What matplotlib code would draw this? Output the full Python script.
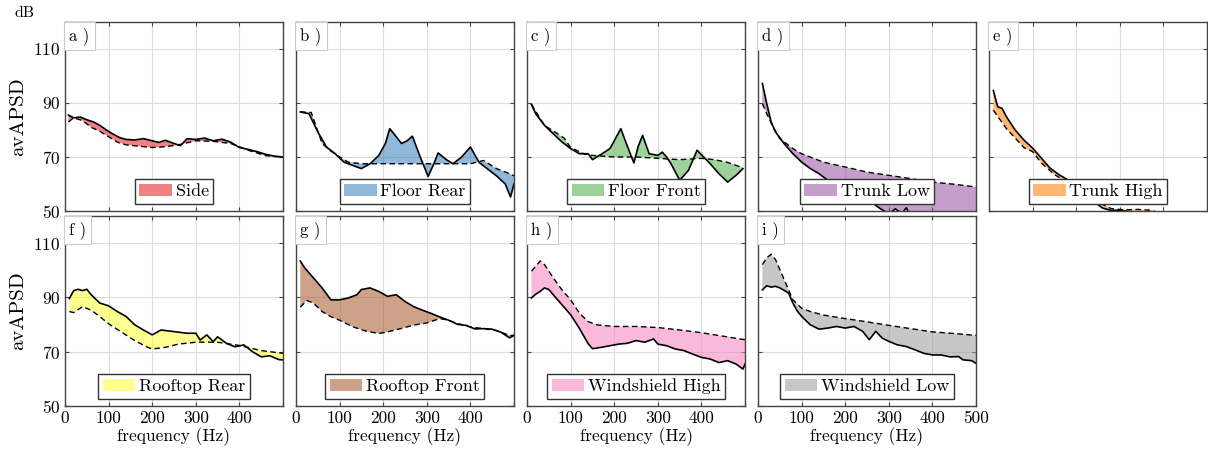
import numpy as np
import matplotlib
matplotlib.use("Agg")
import matplotlib.pyplot as plt

plt.rcParams["font.family"] = ["cmr10", "DejaVu Serif"]
plt.rcParams["axes.formatter.use_mathtext"] = True
plt.rcParams["mathtext.fontset"] = "cm"

names = ["Side", "Floor Rear", "Floor Front", "Trunk Low", "Trunk High",
         "Rooftop Rear", "Rooftop Front", "Windshield High", "Windshield Low"]
letters = ["a", "b", "c", "d", "e", "f", "g", "h", "i"]
colors = ["#e41a1c", "#377eb8", "#4daf4a", "#984ea3", "#ff7f00",
          "#ffff33", "#a65628", "#f781bf", "#999999"]

# solid = measured, dashed = reference curve
side_fs = [8, 20, 35, 50, 65, 80, 95, 110, 125, 140, 160, 180, 200, 215, 230, 250, 265, 280, 300, 320, 340, 360, 380, 400, 420, 440, 460, 480, 500]
side_s = [85.5, 84.5, 84.8, 83.8, 83, 81.7, 80, 78.5, 77.2, 76.5, 76.3, 76.8, 76, 75.4, 76.2, 75, 74.2, 76.8, 76.5, 77, 76, 76.6, 75.5, 73.5, 72.8, 72, 71, 70.3, 70]
side_fd = [8, 20, 40, 60, 80, 100, 120, 140, 170, 200, 230, 260, 300, 340, 380, 400, 420, 440, 460, 480, 500]
side_d = [83, 84.5, 83.5, 81, 79.5, 77.5, 75.5, 74.5, 74, 73.5, 73.8, 74.5, 76, 75.8, 75, 73.8, 72.5, 71.5, 70.5, 70.2, 70]

frear_fs = [10, 30, 50, 70, 90, 110, 130, 150, 170, 190, 205, 215, 230, 242, 255, 267, 285, 303, 315, 326, 345, 360, 380, 400, 420, 440, 460, 480, 492, 500]
frear_s = [86.7, 86, 79.3, 73.7, 71.2, 68.1, 66.9, 65.7, 67.5, 70.6, 75, 80.5, 77.5, 75, 76, 77.7, 70, 62.8, 67, 71.5, 69, 67.5, 70, 73.7, 68, 65.5, 63, 60, 55.2, 60]
frear_fd = [10, 35, 60, 80, 100, 120, 150, 200, 250, 300, 350, 400, 430, 460, 490, 500]
frear_d = [86.7, 86.5, 75, 72.2, 70, 68.1, 67.5, 67.5, 67.5, 67.5, 67.5, 67.5, 68.7, 65.7, 63.8, 63]

ffront_fs = [10, 20, 40, 60, 80, 100, 120, 140, 150, 170, 190, 200, 215, 230, 245, 255, 265, 280, 300, 310, 320, 330, 350, 370, 390, 405, 420, 440, 460, 480, 495]
ffront_s = [89.5, 86, 81.7, 78.6, 75.6, 73.1, 71.2, 71.2, 69, 71, 73.1, 76, 80.5, 74, 67.8, 74, 78, 71.2, 70.6, 71.8, 70, 67.5, 61.4, 65, 72.5, 70, 67.5, 63.8, 60.7, 63.3, 65.7]
ffront_fd = [10, 40, 70, 85, 100, 130, 150, 200, 250, 300, 350, 400, 430, 460, 495]
ffront_d = [89.5, 81.7, 78.6, 77, 73.5, 71.2, 70.6, 70, 70, 69.5, 69, 69.5, 69, 68, 66]

tlow_fs = [10, 20, 30, 40, 60, 80, 100, 120, 140, 160, 180, 200, 230, 260, 280, 300, 315, 330, 340, 350, 380, 420, 460, 500]
tlow_s = [97.2, 89.8, 83, 79.3, 74.9, 71.2, 68.1, 65.7, 63.8, 61.4, 59.5, 58.3, 55.8, 53.3, 50.9, 49, 50.8, 49, 51.2, 48, 46, 44, 43, 42]
tlow_fd = [10, 20, 35, 50, 80, 100, 150, 200, 250, 300, 350, 400, 450, 500]
tlow_d = [89.8, 86, 81, 76.8, 73.1, 71.2, 68.1, 66.3, 64.4, 63.2, 62, 60.7, 59.9, 58.9]

thigh_fs = [10, 20, 30, 40, 60, 80, 100, 120, 140, 160, 180, 200, 220, 240, 260, 280, 300, 320, 350, 380, 420, 460, 500]
thigh_s = [94.6, 88.6, 88, 84.9, 80, 76.3, 73.3, 69.6, 65.9, 63.5, 61.6, 59.1, 56, 53.6, 51.1, 50.2, 50.3, 49.8, 49.5, 49.5, 48, 47, 46]
thigh_fd = [10, 20, 40, 60, 80, 100, 120, 150, 180, 200, 240, 280, 310, 340, 370, 400, 450, 500]
thigh_d = [87.3, 85, 80.5, 77, 73.5, 72, 67.8, 63.5, 60.5, 59, 54, 50.9, 50.4, 50.6, 50.3, 49, 48, 47]

rrear_fs = [10, 20, 30, 40, 50, 60, 80, 100, 120, 140, 160, 180, 200, 220, 250, 280, 300, 310, 325, 340, 350, 370, 390, 410, 430, 450, 470, 490, 500]
rrear_s = [89.6, 92.5, 93, 92.5, 93, 91, 87.9, 86.9, 84.8, 83, 79.9, 78, 76.2, 78, 77.4, 76.8, 76.8, 74.3, 76.2, 73.7, 75.5, 73.1, 71.8, 72.5, 70, 68.1, 68.5, 67.1, 67]
rrear_fd = [10, 20, 40, 60, 80, 100, 130, 160, 190, 200, 230, 260, 300, 350, 400, 450, 500]
rrear_d = [84.8, 84.4, 86.6, 85.3, 82.9, 80.3, 77.2, 74.1, 71.6, 71, 71.6, 72.8, 73.5, 73.5, 72.3, 70.4, 69.4]

rfront_fs = [10, 20, 40, 60, 80, 100, 120, 140, 150, 170, 190, 210, 230, 250, 270, 290, 310, 330, 350, 370, 390, 410, 430, 450, 470, 490, 500]
rfront_s = [103.4, 100.9, 97.2, 93.5, 89.1, 89.1, 89.8, 91, 92.9, 93.5, 92.2, 90.4, 91, 88.5, 86.6, 85.3, 84.1, 82.8, 81.6, 80.1, 79.7, 78.4, 78.5, 78.3, 77.2, 75.1, 76]
rfront_fd = [10, 25, 40, 60, 80, 100, 130, 160, 190, 210, 240, 270, 300, 330, 350, 370, 400, 430, 460, 490, 500]
rfront_d = [86.4, 88.9, 87.9, 84.8, 82.9, 81.6, 79.2, 77.6, 76.7, 77.3, 78.5, 79.8, 80.6, 82.2, 81.6, 80.4, 79.1, 78.5, 77.8, 76, 76]

whigh_fs = [10, 20, 30, 40, 50, 60, 80, 100, 120, 140, 150, 170, 190, 210, 230, 250, 270, 290, 300, 320, 340, 360, 380, 400, 420, 440, 460, 480, 495, 500]
whigh_s = [89.8, 91.2, 92.2, 93.5, 92.9, 91, 87.3, 83.6, 78.6, 73, 71.1, 71.6, 72.2, 72.8, 73.1, 74.1, 73.5, 74.7, 72.8, 72.2, 71, 70.4, 69.1, 67.9, 67.3, 66, 66.7, 65.4, 63.6, 65.5]
whigh_fd = [10, 20, 30, 40, 50, 60, 80, 100, 120, 140, 160, 200, 250, 300, 350, 400, 450, 500]
whigh_d = [99.7, 101.5, 103.4, 102.1, 99.7, 97.2, 92.8, 89.1, 84.2, 81.1, 79.9, 79.3, 79.3, 78.9, 78, 77, 75.7, 74.4]

wlow_fs = [10, 20, 30, 40, 50, 60, 70, 80, 90, 100, 120, 140, 160, 180, 200, 220, 240, 255, 270, 285, 300, 320, 340, 360, 380, 400, 420, 440, 460, 470, 490, 500]
wlow_s = [92.8, 94.3, 93.8, 94.1, 93.5, 92.6, 91.6, 87.9, 85, 83, 79.9, 78.3, 78.7, 79.3, 78.7, 79.3, 77.5, 74.4, 77.5, 75, 73.8, 72.5, 71.9, 70.7, 69.4, 68.8, 68.8, 68.1, 68.2, 67, 66.7, 65.7]
wlow_fd = [10, 20, 30, 40, 50, 60, 70, 80, 100, 120, 150, 200, 250, 300, 350, 400, 450, 500]
wlow_d = [102.1, 104.6, 105.9, 104, 100.3, 96.5, 92.8, 89.1, 86, 84.8, 83.5, 82.2, 81, 79.7, 78.5, 77.3, 76.7, 76]

curves = [
    (side_fs, side_s, side_fd, side_d),
    (frear_fs, frear_s, frear_fd, frear_d),
    (ffront_fs, ffront_s, ffront_fd, ffront_d),
    (tlow_fs, tlow_s, tlow_fd, tlow_d),
    (thigh_fs, thigh_s, thigh_fd, thigh_d),
    (rrear_fs, rrear_s, rrear_fd, rrear_d),
    (rfront_fs, rfront_s, rfront_fd, rfront_d),
    (whigh_fs, whigh_s, whigh_fd, whigh_d),
    (wlow_fs, wlow_s, wlow_fd, wlow_d),
]

fig = plt.figure(figsize=(12.08, 4.57), dpi=100)
lefts = [0.0538, 0.2450, 0.4363, 0.6275, 0.8187]
w = 0.1805
rows = [(0.5383, 0.4136), (0.1116, 0.4158)]

for k in range(9):
    r, c = divmod(k, 5)
    ax = fig.add_axes([lefts[c], rows[r][0], w, rows[r][1]])
    fs, s, fd, d = curves[k]
    xs = np.concatenate([fs, fd[::-1]])
    ys = np.concatenate([s, d[::-1]])
    ax.fill(xs, ys, color=colors[k], alpha=0.55, lw=0, label=names[k])
    ax.plot(fd, d, color="black", lw=1.0, ls=(0, (4, 2.5)))
    ax.plot(fs, s, color="black", lw=1.2)

    ax.set_xlim(0, 500)
    ax.set_ylim(50, 120)
    ax.set_xticks([0, 100, 200, 300, 400, 500])
    ax.set_yticks([50, 70, 90, 110])
    ax.grid(True, color="#dcdcdc", lw=0.8)
    ax.set_axisbelow(True)
    ax.tick_params(direction="in", top=True, right=True, length=3,
                   labelsize=12.5, color="#444444")
    for sp in ax.spines.values():
        sp.set_color("#444444")
        sp.set_linewidth(1.0)

    if r == 1:
        labels = ["0", "100", "200", "300", "400", "500" if k == 8 else ""]
        ax.set_xticklabels(labels)
        ax.set_xlabel("frequency (Hz)", fontsize=12.5, labelpad=1)
    else:
        ax.set_xticklabels([])
    if c == 0:
        ax.set_ylabel("avAPSD", fontsize=15, labelpad=4)
    else:
        ax.set_yticklabels([])

    ax.text(0.02, 0.975, letters[k] + " )", transform=ax.transAxes,
            ha="left", va="top", fontsize=12,
            bbox=dict(boxstyle="square,pad=0.3", facecolor="white",
                      edgecolor="#cccccc", lw=0.8))

    leg = ax.legend(loc="lower center", fontsize=13, fancybox=False,
                    handlelength=1.8, handletextpad=0.2, borderpad=0.25,
                    borderaxespad=0.4, framealpha=1)
    leg.get_frame().set_edgecolor("#333333")
    leg.get_frame().set_linewidth(1.0)

fig.text(0.012, 0.962, "dB", fontsize=11.5)

fig.savefig("out.png", dpi=100)
